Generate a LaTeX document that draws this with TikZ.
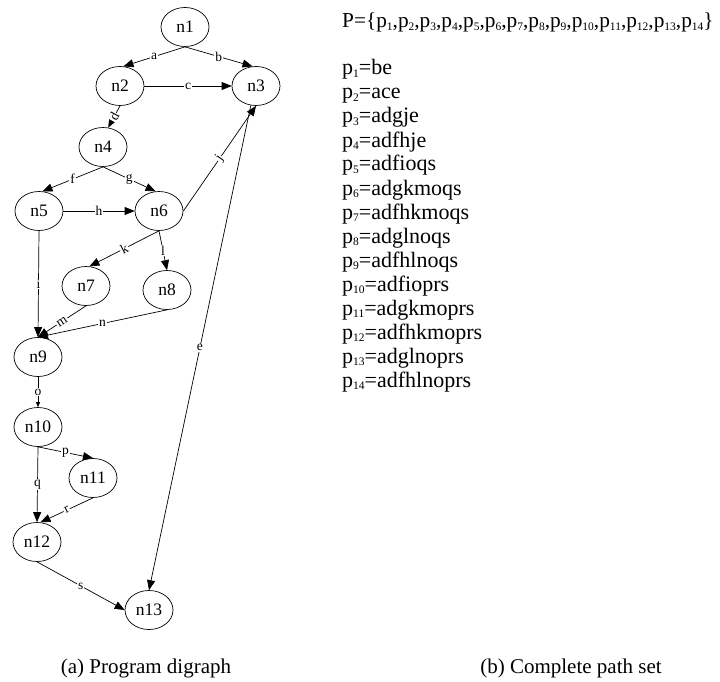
\documentclass[tikz,border=0pt]{standalone}
\usepackage{fontspec}
\setmainfont{Liberation Serif}
\usetikzlibrary{arrows.meta,shapes.geometric}
\newcommand\ps[1]{p\raisebox{-0.28ex}{\fontsize{11.5}{11.5}\selectfont #1}}
\begin{document}
\begin{tikzpicture}[x=1pt,y=-1pt,
  vnode/.style={draw,ellipse,line width=0.7pt,minimum width=48pt,minimum height=39pt,inner sep=0pt,font=\fontsize{17.5}{17.5}\selectfont},
  edge/.style={draw,line width=0.7pt,-{Triangle[length=10pt,width=8pt]}},
  smalledge/.style={draw,line width=0.7pt,-{Triangle[length=5pt,width=4pt]}},
  elab/.style={fill=white,inner sep=1pt,font=\fontsize{13.5}{13.5}\selectfont},
  listtxt/.style={anchor=base west,inner sep=0pt,font=\fontsize{22}{22}\selectfont},
  captxt/.style={anchor=base,inner sep=0pt,font=\fontsize{21}{21}\selectfont}]
\useasboundingbox (0,0) rectangle (720,682);
% nodes
\node[vnode] (n1) at (185,27) {n1};
\node[vnode] (n2) at (120,86) {n2};
\node[vnode] (n3) at (256,86) {n3};
\node[vnode] (n4) at (103,147) {n4};
\node[vnode] (n5) at (39,211) {n5};
\node[vnode] (n6) at (159,211) {n6};
\node[vnode] (n7) at (86,286) {n7};
\node[vnode] (n8) at (167,290) {n8};
\node[vnode] (n9) at (38,357) {n9};
\node[vnode] (n10) at (38,427) {n10};
\node[vnode] (n11) at (93,478) {n11};
\node[vnode] (n12) at (37,542) {n12};
\node[vnode] (n13) at (149,610) {n13};
% edges
\draw[edge] (n1.south) -- node[elab]{a} (n2.80);
\draw[edge] (n1.south) -- node[elab]{b} (n3.100);
\draw[edge] (n2.east) -- node[elab]{c} (n3.west);
\draw[edge] (n2.south) -- node[elab,sloped]{d} (n4.75);
\draw[edge] (n4.south) -- node[elab]{f} (n5.80);
\draw[edge] (n4.south) -- node[elab]{g} (n6.100);
\draw[edge] (n5.east) -- node[elab]{h} (n6.west);
\draw[edge] (n6.east) -- node[elab,sloped]{j} (n3.south);
\draw[edge] (n3.255) -- node[elab]{e} (n13.north);
\draw[edge] (n5.south) -- node[elab]{i} (n9.north);
\draw[edge] (n6.south) -- node[elab,sloped]{k} (n7.80);
\draw[edge] (n6.south) -- node[elab]{l} (n8.north);
\draw[edge] (n7.south) -- node[elab,sloped]{m} (n9.north);
\draw[edge] (n8.south) -- node[elab]{n} (n9.north);
\draw[smalledge] (n9.south) -- node[elab]{o} (n10.north);
\draw[edge] (n10.south) -- node[elab]{p} (n11.north);
\draw[edge] (n10.south) -- node[elab]{q} (n12.north);
\draw[edge] (n11.south) -- node[elab,sloped]{r} (n12.80);
\draw[edge] (n12.south) -- node[elab]{s} (n13.west);
% path set
\node[listtxt,font=\fontsize{21.3}{21.3}\selectfont] (P) at (342,28) {P=\{\ps{1},\ps{2},\ps{3},\ps{4},\ps{5},\ps{6},\ps{7},\ps{8},\ps{9},\ps{10},\ps{11},\ps{12},\ps{13},\ps{14}\}};
\node[listtxt] (l1) at (342,75) {\ps{1}=be};
\node[listtxt] (l2) at (342,99) {\ps{2}=ace};
\node[listtxt] (l3) at (342,123) {\ps{3}=adgje};
\node[listtxt] (l4) at (342,147) {\ps{4}=adfhje};
\node[listtxt] (l5) at (342,171) {\ps{5}=adfioqs};
\node[listtxt] (l6) at (342,195) {\ps{6}=adgkmoqs};
\node[listtxt] (l7) at (342,219) {\ps{7}=adfhkmoqs};
\node[listtxt] (l8) at (342,243) {\ps{8}=adglnoqs};
\node[listtxt] (l9) at (342,267) {\ps{9}=adfhlnoqs};
\node[listtxt] (l10) at (342,291) {\ps{10}=adfioprs};
\node[listtxt] (l11) at (342,315) {\ps{11}=adgkmoprs};
\node[listtxt] (l12) at (342,339) {\ps{12}=adfhkmoprs};
\node[listtxt] (l13) at (342,363) {\ps{13}=adglnoprs};
\node[listtxt] (l14) at (342,387) {\ps{14}=adfhlnoprs};
% captions
\node[captxt] (capa) at (146,673) {(a) Program digraph};
\node[captxt] (capb) at (571,673) {(b) Complete path set};
\end{tikzpicture}
\end{document}
